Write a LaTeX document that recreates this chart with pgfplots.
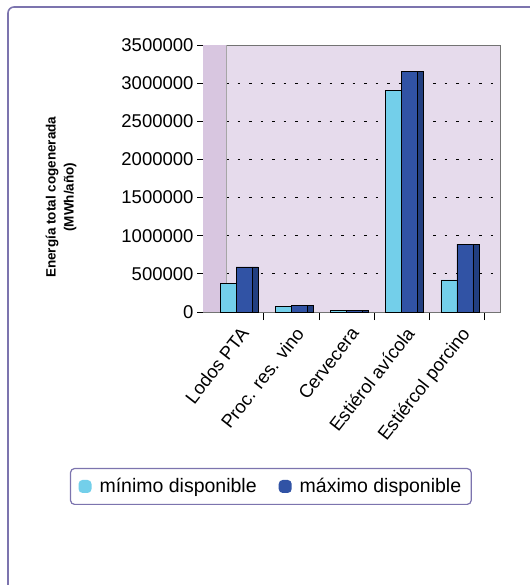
\documentclass[border=0pt]{standalone}
\usepackage{pgfplots}
\pgfplotsset{compat=1.18}
\usepackage{fontspec}
\setmainfont{Liberation Sans}

\definecolor{minc}{HTML}{73CFEA}
\definecolor{maxc}{HTML}{3153A5}
\definecolor{sidec}{HTML}{223F80}
\definecolor{wallc}{HTML}{E6DBEC}
\definecolor{sidewall}{HTML}{D8C6E0}
\definecolor{framec}{HTML}{7C74AE}

\begin{document}
\begin{tikzpicture}
\useasboundingbox (0pt,0pt) rectangle (529pt,-585pt);
\draw[framec, line width=1.6pt, rounded corners=6pt] (8pt,-7pt) rectangle (545pt,-600pt);
\begin{axis}[
  at={(203pt,-312pt)}, anchor=south west,
  scale only axis, width=297pt, height=267pt,
  font=\fontsize{18.5}{20}\selectfont,
  axis background/.style={fill=wallc},
  axis line style={black!55, line width=0.8pt},
  ymin=0, ymax=3500000,
  ytick={0,500000,...,3500000},
  scaled y ticks=false,
  /pgf/number format/assume math mode=true,
  y tick label style={/pgf/number format/fixed, /pgf/number format/1000 sep={}},
  xmin=-0.6, xmax=4.78,
  xtick={0,...,4},
  xticklabels={Lodos PTA, Proc. res. vino, Cervecera, Estiérol avícola, Estiércol porcino},
  x tick label style={rotate=52, anchor=north east, inner sep=1pt, yshift=-6pt, xshift=-3pt},
  major x tick style={draw=none},
  minor xtick={0.5,1.5,...,4.5},
  minor x tick style={black, line width=0.8pt},
  minor tick length=8pt,
  major tick length=6pt,
  tick align=outside,
  y tick style={black, line width=0.8pt},
  xtick pos=bottom, ytick pos=left,
  ymajorgrids,
  grid style={black, line width=0.9pt, dash pattern=on 2.5pt off 9pt},
  ylabel={Energía total cogenerada\\(MWh/año)},
  ylabel style={at={(axis description cs:-0.478,0.43)}, anchor=center,
    align=center, font=\bfseries\fontsize{13.5}{18}\selectfont},
  ybar, bar width=16pt,
  legend columns=2,
  legend style={at={(axis description cs:-0.448,-0.584)}, anchor=north west,
    draw=framec, line width=1.2pt, rounded corners=4pt,
    font=\fontsize{19.5}{21}\selectfont,
    inner xsep=8pt, inner ysep=8pt,
    /tikz/every odd column/.append style={column sep=6pt},
    /tikz/every even column/.append style={column sep=20pt}},
  legend cell align=left,
  legend image code/.code={\fill[#1, draw=none] (0pt,-6.5pt) rectangle (13pt,6.5pt);},
]
\fill[sidewall] (rel axis cs:0,0) rectangle (rel axis cs:0.078,1);
\draw[black!35, line width=0.6pt] (rel axis cs:0.078,0) -- (rel axis cs:0.078,1);

\addplot[fill=minc, draw=black, line width=0.6pt, bar shift=-8pt] coordinates
  {(0,370000) (1,70000) (2,20000) (3,2900000) (4,420000)};
\addlegendentry{mínimo disponible}
\addplot[fill=maxc, draw=black, line width=0.6pt, bar shift=8pt] coordinates
  {(0,590000) (1,90000) (2,25000) (3,3150000) (4,890000)};
\addlegendentry{máximo disponible}
\addplot[fill=sidec, draw=black, line width=0.6pt, bar width=6pt, bar shift=19pt, forget plot] coordinates
  {(0,590000) (1,90000) (2,25000) (3,3150000) (4,890000)};
\end{axis}
\end{tikzpicture}
\end{document}
